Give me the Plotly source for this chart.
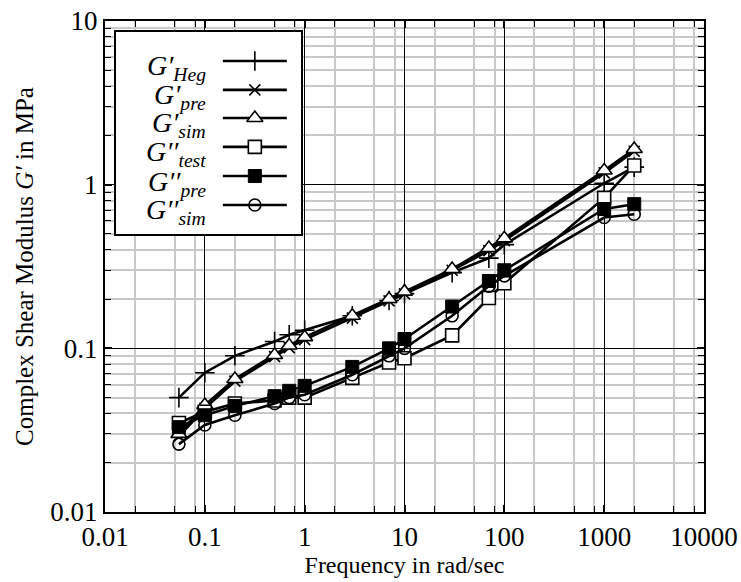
import plotly.graph_objects as go

# ---- data ----
freq = [0.055, 0.1, 0.2, 0.5, 0.7, 1, 3, 7, 10, 30, 70, 100, 1000, 2000]
g1_heg = [0.050, 0.071, 0.090, 0.110, 0.121, 0.129, 0.158, 0.196, 0.216, 0.29, 0.356, 0.43, 1.02, 1.28]
g1_pre = [0.029, 0.043, 0.063, 0.089, 0.101, 0.113, 0.153, 0.195, 0.215, 0.30, 0.395, 0.455, 1.18, 1.60]
g1_sim = [0.030, 0.045, 0.065, 0.091, 0.104, 0.117, 0.158, 0.200, 0.222, 0.305, 0.41, 0.47, 1.22, 1.65]
g2_test = [0.035, 0.041, 0.046, 0.048, 0.050, 0.050, 0.066, 0.082, 0.087, 0.12, 0.203, 0.25, 0.83, 1.31]
g2_pre = [0.033, 0.039, 0.0445, 0.051, 0.055, 0.059, 0.077, 0.100, 0.114, 0.18, 0.258, 0.30, 0.71, 0.76]
g2_sim = [0.026, 0.034, 0.039, 0.046, 0.050, 0.052, 0.069, 0.090, 0.100, 0.158, 0.24, 0.277, 0.63, 0.66]

x_ticks = [0.01, 0.1, 1, 10, 100, 1000, 10000]
x_ticktext = ["0.01", "0.1", "1", "10", "100", "1000", "10000"]
y_ticks = [0.01, 0.1, 1, 10]
y_ticktext = ["0.01", "0.1", "1", "10"]

legend_main = ["G′", "G′", "G′", "G′′", "G′′", "G′′"]
legend_sub = ["Heg", "pre", "sim", "test", "pre", "sim"]

FONT = "Liberation Serif, Times New Roman, serif"

markers = [
    dict(symbol="cross-thin-open", size=14, color="black", line=dict(width=1.6, color="black")),
    dict(symbol="x-thin-open", size=11, color="black", line=dict(width=1.6, color="black")),
    dict(symbol="triangle-up", size=14, color="white", line=dict(width=1.6, color="black")),
    dict(symbol="square", size=13, color="white", line=dict(width=1.6, color="black")),
    dict(symbol="square", size=13, color="black", line=dict(width=1, color="black")),
    dict(symbol="circle-open", size=12, color="black", line=dict(width=1.6, color="black")),
]
data = [g1_heg, g1_pre, g1_sim, g2_test, g2_pre, g2_sim]

fig = go.Figure()
for vals, mk in zip(data, markers):
    fig.add_trace(go.Scatter(x=freq, y=vals, mode="lines+markers",
                             line=dict(color="black", width=2.6),
                             marker=mk, showlegend=False, xaxis="x", yaxis="y"))

# ---- custom legend (text left of sample) in an inset subplot ----
n = len(legend_sub)
rows = [0.856, 0.713, 0.574, 0.431, 0.287, 0.144]
for i, mk in enumerate(markers):
    fig.add_trace(go.Scatter(x=[0.578, 0.924], y=[rows[i], rows[i]], mode="lines",
                             line=dict(color="black", width=2.6), showlegend=False,
                             xaxis="x2", yaxis="y2", hoverinfo="skip"))
    fig.add_trace(go.Scatter(x=[0.751], y=[rows[i]], mode="markers", marker=mk,
                             showlegend=False, xaxis="x2", yaxis="y2", hoverinfo="skip"))

annotations = []
for i in range(n):
    annotations.append(dict(
        x=0.50, y=rows[i], xref="x2", yref="y2", xanchor="right", yanchor="middle",
        text=f"<i>{legend_main[i]}</i><sub><i>{legend_sub[i]}</i></sub>",
        showarrow=False, yshift=-7,
        font=dict(family=FONT, size=28, color="black")))

x_minor = [m * 10 ** e for e in range(-2, 4) for m in (2, 5, 8)]
y_minor = [m * 10 ** e for e in range(-2, 1) for m in range(2, 10)]

fig.update_layout(
    template="none",
    width=741, height=582,
    margin=dict(l=105, r=37, t=21, b=70, autoexpand=False),
    paper_bgcolor="white", plot_bgcolor="white",
    font=dict(family=FONT, size=24, color="black"),
    annotations=annotations,
    xaxis=dict(
        type="log", range=[-2, 4], automargin=False,
        tickvals=x_ticks, ticktext=x_ticktext, ticklabeloverflow="allow",
        showline=True, linecolor="black", linewidth=2, mirror="allticks",
        ticks="inside", ticklen=7, tickcolor="black", tickwidth=1.5,
        showgrid=True, gridcolor="black", gridwidth=1.3, zeroline=False,
        minor=dict(tickmode="array", tickvals=x_minor, ticks="inside", ticklen=6,
                   tickcolor="black", tickwidth=1.3, showgrid=True,
                   gridcolor="#c8c8c8", gridwidth=2),
        title=dict(text="Frequency in rad/sec", standoff=3,
                   font=dict(family=FONT, size=24)),
        tickfont=dict(family=FONT, size=27),
    ),
    yaxis=dict(
        type="log", range=[-2, 1], automargin=False,
        tickvals=y_ticks, ticktext=y_ticktext, ticklabeloverflow="allow",
        showline=True, linecolor="black", linewidth=2, mirror="allticks",
        ticks="inside", ticklen=7, tickcolor="black", tickwidth=1.5,
        showgrid=True, gridcolor="black", gridwidth=1.3, zeroline=False,
        minor=dict(tickmode="array", tickvals=y_minor, ticks="inside", ticklen=6,
                   tickcolor="black", tickwidth=1.3, showgrid=True,
                   gridcolor="#c8c8c8", gridwidth=2),
        title=dict(text="Complex Shear Modulus <i>G′</i> in MPa", standoff=10,
                   font=dict(family=FONT, size=25)),
        tickfont=dict(family=FONT, size=27),
    ),
    xaxis2=dict(domain=[0.0184, 0.327], range=[0, 1], anchor="y2", automargin=False,
                showline=True, linecolor="black", linewidth=1.5, mirror=True,
                showgrid=False, zeroline=False, showticklabels=False, ticks="",
                fixedrange=True),
    yaxis2=dict(domain=[0.566, 0.978], range=[0, 1], anchor="x2", automargin=False,
                showline=True, linecolor="black", linewidth=1.5, mirror=True,
                showgrid=False, zeroline=False, showticklabels=False, ticks="",
                fixedrange=True),
)

fig.write_html("out.html", config={"displayModeBar": False},
               post_script="document.body.style.margin='0px';document.body.style.overflow='hidden';")
